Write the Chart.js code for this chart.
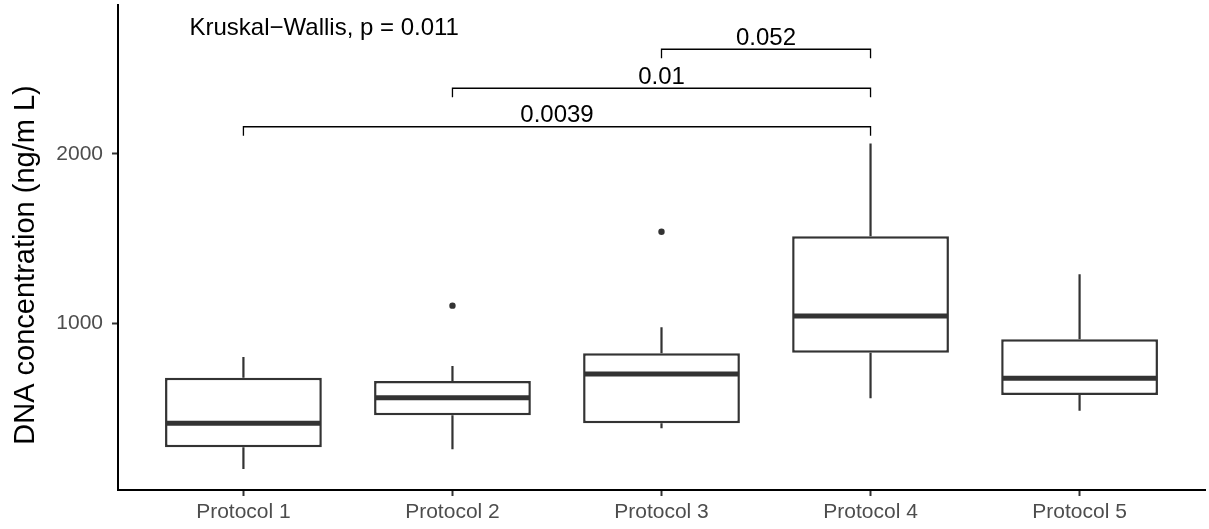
<!DOCTYPE html>
<html>
<head>
<meta charset="utf-8">
<script src="https://cdn.jsdelivr.net/npm/chart.js@4.4.0/dist/chart.umd.min.js"></script>
<style>
  html, body { margin: 0; padding: 0; background: #fff; }
  #wrap { width: 1209px; height: 529px; }
</style>
</head>
<body>
<div id="wrap"><canvas id="boxChart"></canvas></div>
<script>
// Boxplot values (ng/mL)
const protocols = ["Protocol 1", "Protocol 2", "Protocol 3", "Protocol 4", "Protocol 5"];
const whiskerLow  = [141, 257, 381, 558, 485];
const q1          = [269, 458, 410, 827, 577];
const medians     = [410, 561, 701, 1043, 676];
const q3          = [679, 660, 823, 1513, 906];
const whiskerHigh = [801, 748, 976, 2061, 1289];
const outliers    = [[], [1104], [1540], [], []];

// Pairwise comparisons (wilcoxon p-values)
const pairFrom   = [0, 1, 2];
const pairTo     = [3, 3, 3];
const pairLabels = ["0.0039", "0.01", "0.052"];
const bracketY   = [2159, 2386, 2616];

const kwLabel = "Kruskal\u2212Wallis, p = 0.011";
const yTitle = "DNA concentration (ng/m L)";
const yTicks = [1000, 2000];

const FONT = "'Liberation Sans', Arial, Helvetica, sans-serif";
const INK = "#333333";

// build datasets from the arrays above
const boxData = protocols.map((p, i) => ({ x: i, y: [q1[i], q3[i]] }));
const outlierData = [];
outliers.forEach((list, i) => list.forEach(v => outlierData.push({ x: i, y: v })));

// whiskers, medians, brackets and the text labels
const boxExtras = {
  id: 'boxExtras',
  beforeDatasetsDraw(chart) {
    const ctx = chart.ctx, xs = chart.scales.x, ys = chart.scales.y;
    ctx.save();
    ctx.strokeStyle = INK;
    ctx.lineWidth = 2.2;
    protocols.forEach((p, i) => {
      const x = xs.getPixelForValue(i);
      ctx.beginPath();
      ctx.moveTo(x, ys.getPixelForValue(whiskerLow[i]));
      ctx.lineTo(x, ys.getPixelForValue(q1[i]));
      ctx.moveTo(x, ys.getPixelForValue(q3[i]));
      ctx.lineTo(x, ys.getPixelForValue(whiskerHigh[i]));
      ctx.stroke();
    });
    ctx.restore();
  },
  afterDatasetsDraw(chart) {
    const ctx = chart.ctx, xs = chart.scales.x, ys = chart.scales.y;
    const meta = chart.getDatasetMeta(0);
    ctx.save();
    // medians
    ctx.strokeStyle = INK;
    ctx.lineWidth = 5;
    meta.data.forEach((bar, i) => {
      const half = bar.width / 2;
      const y = ys.getPixelForValue(medians[i]);
      ctx.beginPath();
      ctx.moveTo(bar.x - half + 1, y);
      ctx.lineTo(bar.x + half - 1, y);
      ctx.stroke();
    });

    // comparison brackets
    ctx.strokeStyle = '#000';
    ctx.lineWidth = 1.3;
    ctx.fillStyle = '#000';
    ctx.font = '24px ' + FONT;
    ctx.textAlign = 'center';
    ctx.textBaseline = 'bottom';
    pairLabels.forEach((lab, k) => {
      const x1 = xs.getPixelForValue(pairFrom[k]);
      const x2 = xs.getPixelForValue(pairTo[k]);
      const y = ys.getPixelForValue(bracketY[k]);
      ctx.beginPath();
      ctx.moveTo(x1, y + 9);
      ctx.lineTo(x1, y);
      ctx.lineTo(x2, y);
      ctx.lineTo(x2, y + 9);
      ctx.stroke();
      ctx.fillText(lab, (x1 + x2) / 2, y + 1);
    });

    // Kruskal-Wallis label
    ctx.textAlign = 'left';
    ctx.textBaseline = 'middle';
    ctx.fillText(kwLabel, xs.getPixelForValue(-0.258), ys.getPixelForValue(2741));
    ctx.restore();
  },
  afterDraw(chart) {
    // y axis title, centred the way the original sits
    const ctx = chart.ctx;
    ctx.save();
    ctx.translate(26, 265);
    ctx.rotate(-Math.PI / 2);
    ctx.fillStyle = '#000';
    ctx.font = '29px ' + FONT;
    ctx.textAlign = 'center';
    ctx.textBaseline = 'middle';
    ctx.fillText(yTitle, 0, 0);
    ctx.restore();
  }
};

const chart = new Chart(document.getElementById('boxChart'), {
  type: 'bar',
  data: {
    datasets: [
      {
        label: 'box',
        data: boxData,
        backgroundColor: '#ffffff',
        borderColor: INK,
        borderWidth: 2.5,
        borderSkipped: false,
        categoryPercentage: 1,
        barPercentage: 0.75,
        order: 2
      },
      {
        type: 'scatter',
        label: 'outliers',
        data: outlierData,
        pointRadius: 3.2,
        pointBackgroundColor: INK,
        pointBorderColor: INK,
        pointBorderWidth: 0,
        order: 1
      }
    ]
  },
  options: {
    responsive: true,
    maintainAspectRatio: false,
    animation: false,
    layout: { padding: { top: 5, right: 2, left: 0, bottom: 0 } },
    plugins: {
      legend: { display: false },
      tooltip: { enabled: false }
    },
    scales: {
      x: {
        type: 'linear',
        offset: false,
        min: -0.6,
        max: 4.6,
        afterBuildTicks: (scale) => { scale.ticks = protocols.map((p, i) => ({ value: i })); },
        afterFit: (scale) => { scale.height = 39; scale.paddingLeft = 0; scale.paddingRight = 0; },
        ticks: {
          callback: (v) => protocols[v],
          color: '#4D4D4D',
          font: { family: FONT, size: 21 },
          padding: 4,
          maxRotation: 0,
          autoSkip: false
        },
        grid: { offset: false, drawOnChartArea: false, drawTicks: true, tickLength: 6, tickWidth: 2, tickColor: INK },
        border: { color: '#000', width: 2 }
      },
      y: {
        min: 17,
        max: 2877,
        afterBuildTicks: (scale) => { scale.ticks = yTicks.map(v => ({ value: v })); },
        afterFit: (scale) => { scale.width = 118; scale.paddingTop = 0; scale.paddingBottom = 0; },
        ticks: {
          callback: (v) => String(v),
          color: '#4D4D4D',
          font: { family: FONT, size: 21 },
          padding: 9
        },
        grid: { drawOnChartArea: false, drawTicks: true, tickLength: 6, tickWidth: 2, tickColor: INK },
        border: { color: '#000', width: 2 }
      }
    }
  },
  plugins: [boxExtras]
});
</script>
</body>
</html>
